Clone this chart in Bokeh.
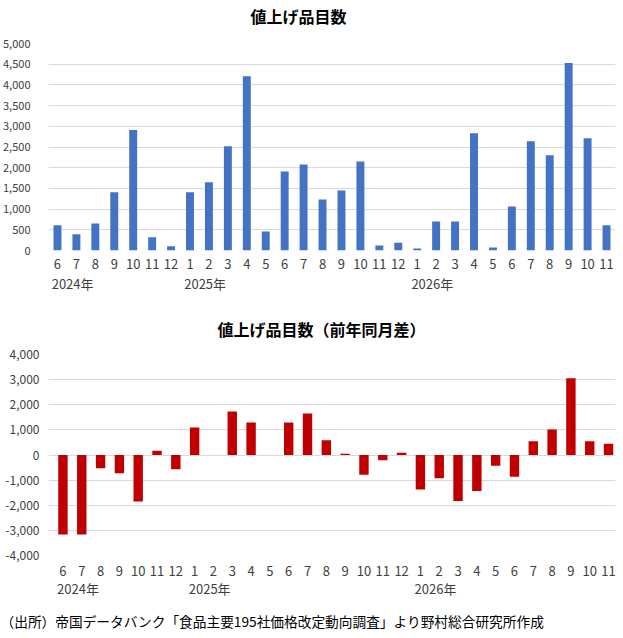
from bokeh.plotting import figure
from bokeh.models import (FixedTicker, NumeralTickFormatter, LinearAxis, Title, Range1d)
from bokeh.layouts import column
from bokeh.embed import file_html
from bokeh.resources import INLINE

# ---- data ----
months = [6, 7, 8, 9, 10, 11, 12,
          1, 2, 3, 4, 5, 6, 7, 8, 9, 10, 11, 12,
          1, 2, 3, 4, 5, 6, 7, 8, 9, 10, 11]
years = ["2024年", "2025年", "2026年"]
items = [610, 390, 650, 1410, 2910, 320, 100,
         1410, 1650, 2520, 4210, 460, 1910, 2080, 1230, 1450, 2150, 120, 190,
         50, 700, 700, 2830, 70, 1060, 2640, 2300, 4530, 2710, 610]
diff = [-3160, -3160, -530, -730, -1850, 170, -570,
        1090, 0, 1730, 1290, 0, 1290, 1650, 590, 50, -790, -210, 90,
        -1370, -930, -1830, -1430, -430, -870, 550, 1010, 3050, 550, 450]
title1 = "値上げ品目数"
title2 = "値上げ品目数（前年同月差）"
source_note = "（出所）帝国データバンク「食品主要195社価格改定動向調査」より野村総合研究所作成"

idx = list(range(len(months)))
year_start = [0] + [i for i, m in enumerate(months) if m == 1]

FONT = "Noto Sans CJK JP"
TXT = "#404040"
GRID = "#D9D9D9"


def style(p, yticks, ylabel_size, ystand, mstand, ystand2):
    p.outline_line_color = None
    p.xgrid.grid_line_color = None
    p.ygrid.grid_line_color = GRID
    p.ygrid.ticker = FixedTicker(ticks=yticks)
    p.yaxis.ticker = FixedTicker(ticks=yticks)
    p.yaxis.formatter = NumeralTickFormatter(format="0,0")
    for ax in p.yaxis:
        ax.axis_line_color = None
        ax.major_tick_line_color = None
        ax.minor_tick_line_color = None
        ax.major_tick_out = 0
        ax.major_tick_in = 0
        ax.major_label_standoff = ystand
        ax.major_label_text_font = FONT
        ax.major_label_text_font_size = ylabel_size
        ax.major_label_text_color = TXT
    xa = p.xaxis[0]
    xa.ticker = FixedTicker(ticks=idx)
    xa.major_label_overrides = {i: str(m) for i, m in zip(idx, months)}
    yearax = LinearAxis(ticker=FixedTicker(ticks=[s + 0.8 for s in year_start]),
                        major_label_overrides={s + 0.8: y for s, y in zip(year_start, years)})
    p.add_layout(yearax, "below")
    for ax in (xa, yearax):
        ax.axis_line_color = None
        ax.major_tick_line_color = None
        ax.minor_tick_line_color = None
        ax.major_tick_out = 0
        ax.major_tick_in = 0
        ax.major_label_text_font = FONT
        ax.major_label_text_font_size = "13px"
        ax.major_label_text_color = TXT
    xa.major_label_standoff = mstand
    yearax.major_label_standoff = ystand2


def add_title(p, text, offset, gap, standoff):
    # invisible spacer closest to the plot, then the real title outside it
    p.add_layout(Title(text=" ", text_font_size="1px", standoff=gap), "above")
    p.add_layout(Title(text=text, text_font=FONT, text_font_size="16px",
                       text_font_style="bold", text_color="#000000",
                       align="left", offset=offset, standoff=standoff), "above")


# ---- top chart ----
p1 = figure(width=623, height=305, output_backend="svg", toolbar_location=None,
            x_range=Range1d(-0.474, 29.474), y_range=Range1d(0, 5000),
            min_border_left=46, min_border_right=8, min_border_top=43, min_border_bottom=55)
p1.vbar(x=idx, top=items, width=0.42, fill_color="#4472C4", line_color=None)
style(p1, list(range(0, 5001, 500)), "11px", 18, 8, 2)
add_title(p1, title1, 202, 13, 0)

# ---- bottom chart ----
p2 = figure(width=623, height=333, output_backend="svg", toolbar_location=None,
            x_range=Range1d(-0.768, 29.37), y_range=Range1d(-4000, 4000),
            min_border_left=46, min_border_right=8, min_border_top=49, min_border_bottom=83)
p2.vbar(x=idx, top=diff, bottom=0, width=0.5, fill_color="#C00000", line_color=None)
style(p2, list(range(-4000, 4001, 1000)), "12px", 9, 10, 0)
add_title(p2, title2, 169, 10, 2)
p2.add_layout(Title(text=source_note, text_font=FONT, text_font_size="13.7px",
                    text_font_style="normal", text_color="#000000",
                    align="left", offset=-48, standoff=16), "below")

layout = column(p1, p2, spacing=0)
open("out.html", "w").write(file_html(layout, INLINE))
